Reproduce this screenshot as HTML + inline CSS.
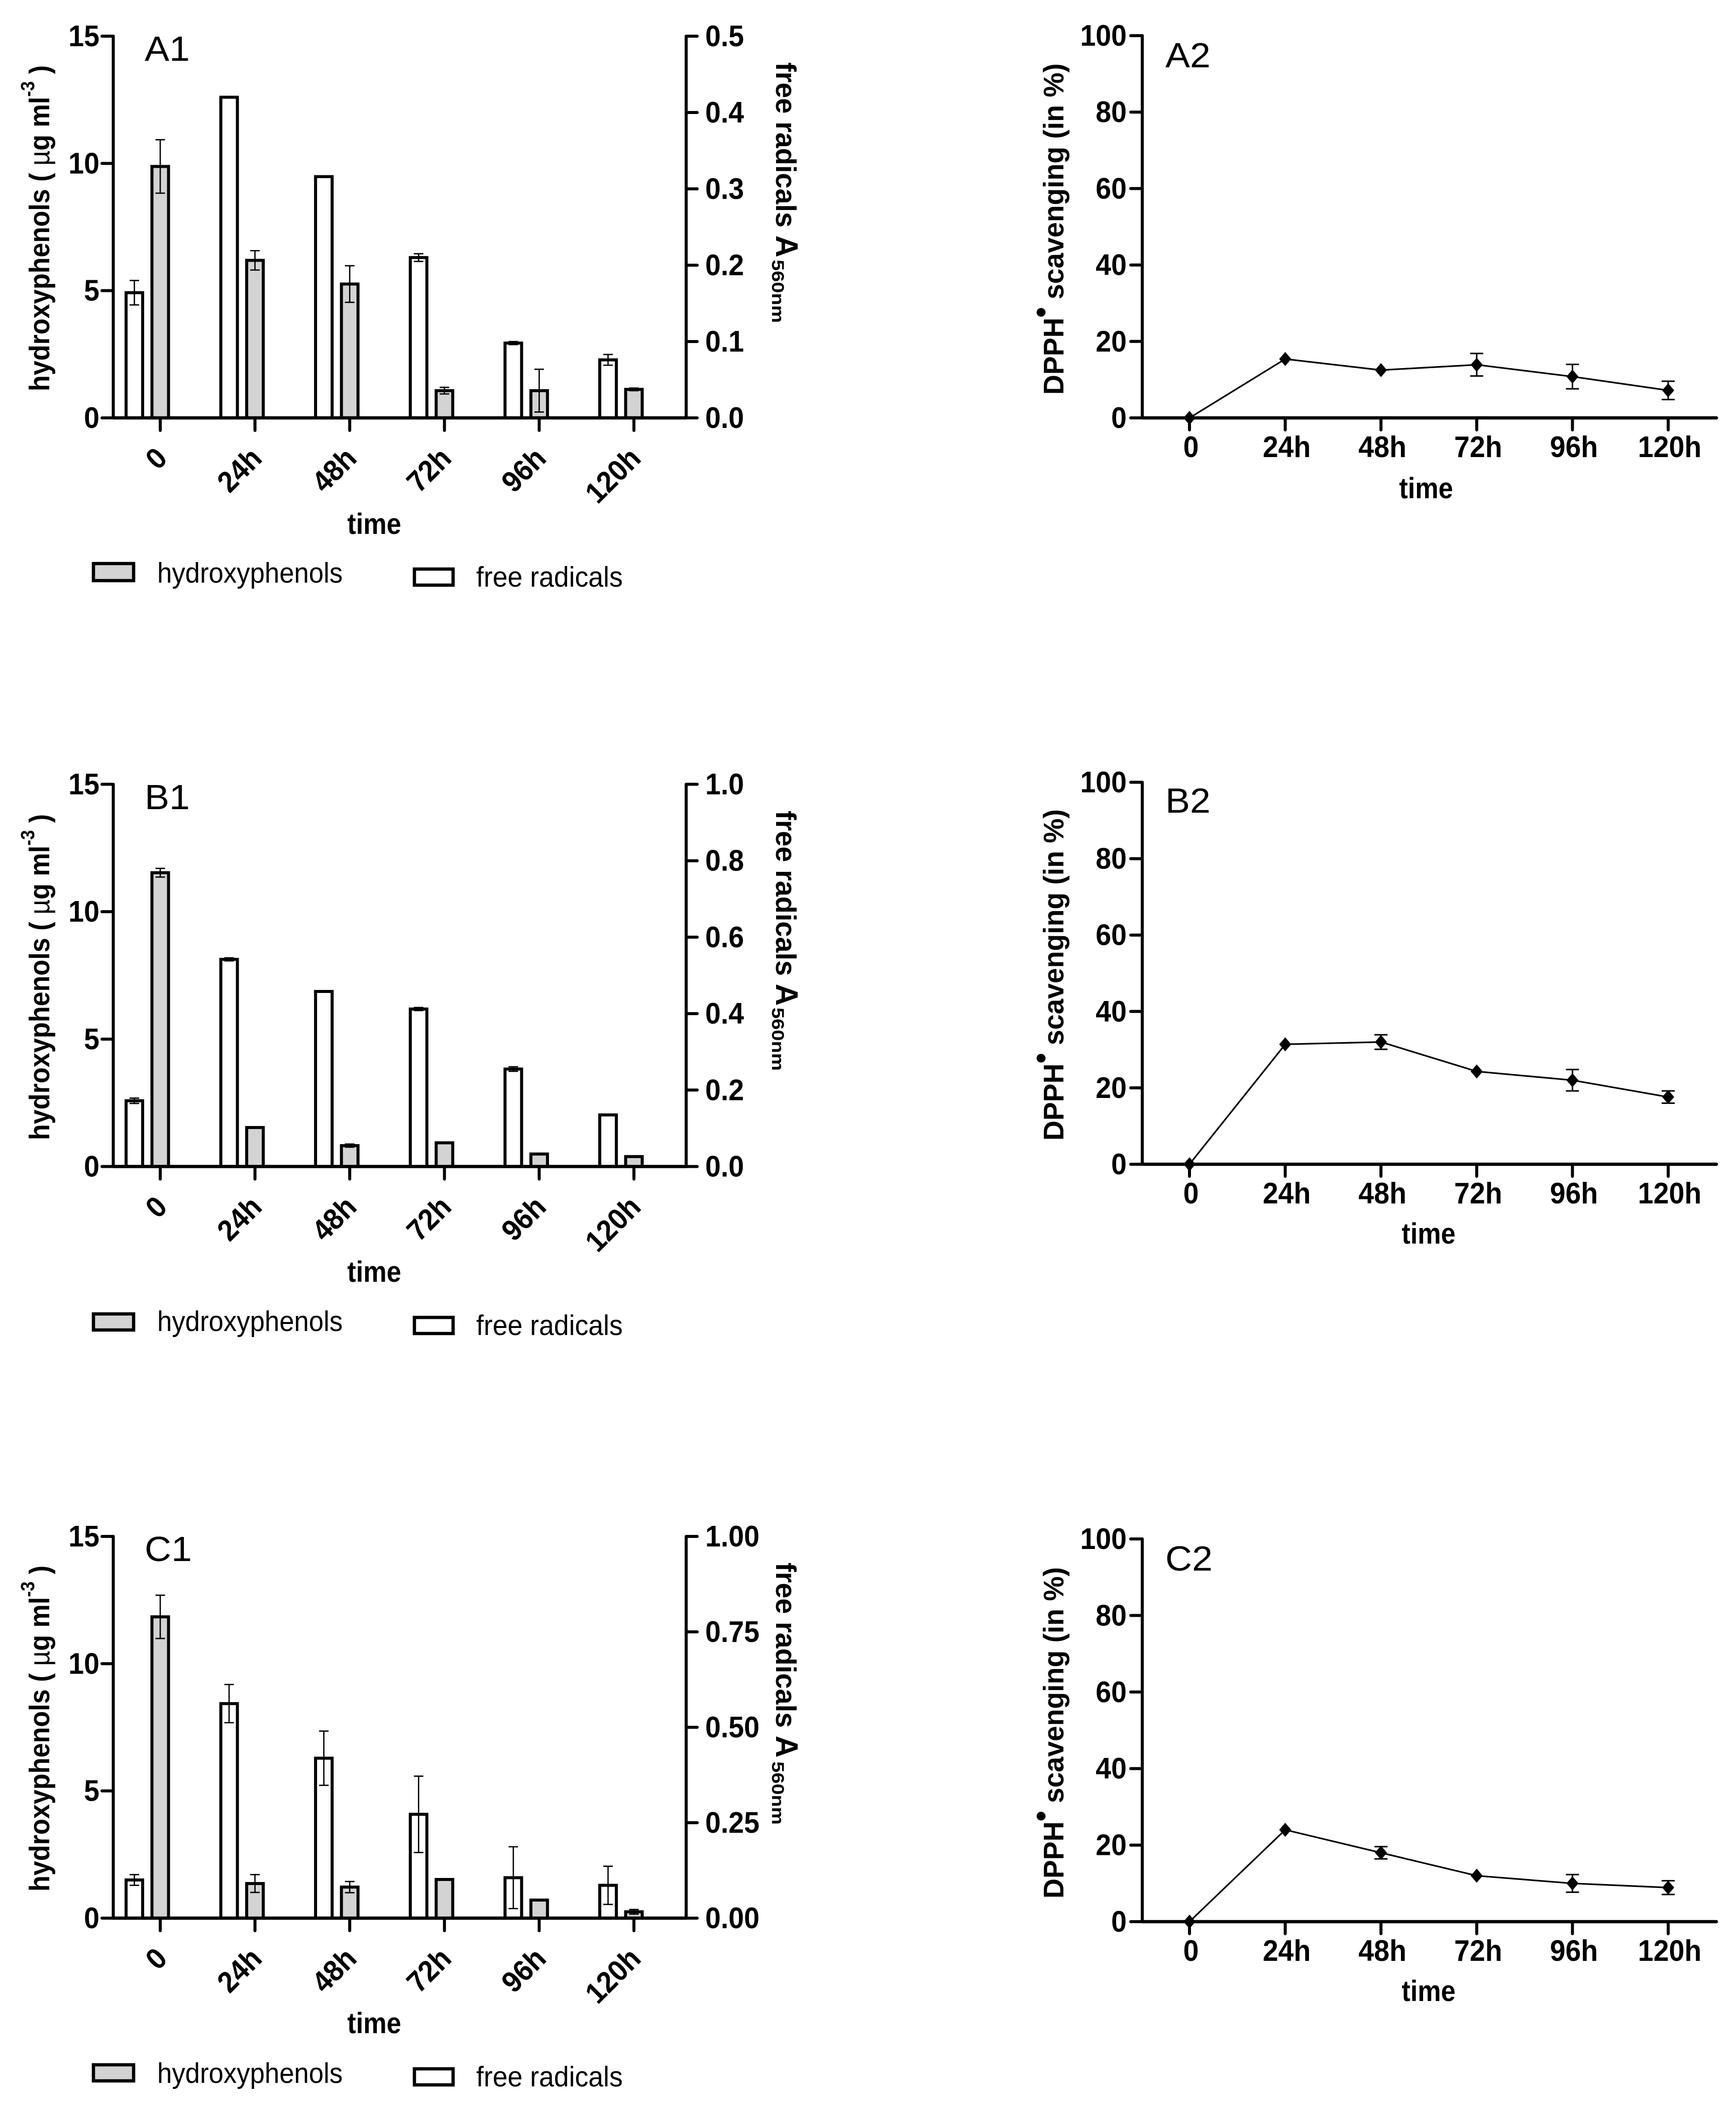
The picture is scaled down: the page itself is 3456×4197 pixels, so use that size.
<!DOCTYPE html>
<html lang="en">
<head>
<meta charset="utf-8">
<title>Hydroxyphenols, free radicals and DPPH scavenging over time</title>
<style>
html,body{margin:0;padding:0;background:#fff}
svg{display:block}
text{font-family:"Liberation Sans",Arial,sans-serif;fill:#000}
.b{font-weight:700}
</style>
</head>
<body>
<svg id="figure" xmlns="http://www.w3.org/2000/svg" width="3456" height="4197" viewBox="0 0 3456 4197">
<rect width="3456" height="4197" fill="#fff"/>

<!-- A1 static -->
<g>
<text transform="translate(288 121) scale(1.05 1)" font-size="70">A1</text>
<text class="b" transform="translate(98 779) rotate(-90) scale(.915 1)" font-size="57">hydroxyphenols ( <tspan font-weight="400">µ</tspan>g ml<tspan font-size="38" dy="-30">-3</tspan><tspan dy="30"> )</tspan></text>
<text class="b" transform="translate(1545 124) rotate(90) scale(.98 1)" font-size="57">free radicals <tspan font-size="62">A</tspan></text>
<text class="b" transform="translate(1537 517) rotate(90) scale(1.17 1)" font-size="34">560nm</text>
<text class="b" transform="translate(745 1063) scale(.9 1)" font-size="58" text-anchor="middle">time</text>
<rect x="186" y="1122" width="80" height="34" fill="#d3d3d3" stroke="#000" stroke-width="6.5"/>
<text transform="translate(313 1160) scale(.925 1)" font-size="57">hydroxyphenols</text>
<rect x="825" y="1133" width="77" height="32" fill="#fff" stroke="#000" stroke-width="6.5"/>
<text transform="translate(948 1168) scale(.94 1)" font-size="57">free radicals</text>
</g>

<!-- A2 static -->
<g>
<text transform="translate(2320 134) scale(1.05 1)" font-size="70">A2</text>
<text class="b" transform="translate(2117 786) rotate(-90) scale(.97 1)" font-size="57">DPPH<tspan font-size="62" dy="-24">•</tspan><tspan dy="24"> scavenging (in %)</tspan></text>
<text class="b" transform="translate(2839 992) scale(.9 1)" font-size="58" text-anchor="middle">time</text>
</g>

<!-- B1 static -->
<g>
<text transform="translate(288 1611) scale(1.05 1)" font-size="70">B1</text>
<text class="b" transform="translate(98 2270) rotate(-90) scale(.915 1)" font-size="57">hydroxyphenols ( <tspan font-weight="400">µ</tspan>g ml<tspan font-size="38" dy="-30">-3</tspan><tspan dy="30"> )</tspan></text>
<text class="b" transform="translate(1545 1614) rotate(90) scale(.98 1)" font-size="57">free radicals <tspan font-size="62">A</tspan></text>
<text class="b" transform="translate(1537 2006) rotate(90) scale(1.17 1)" font-size="34">560nm</text>
<text class="b" transform="translate(745 2552) scale(.9 1)" font-size="58" text-anchor="middle">time</text>
<rect x="186" y="2616" width="80" height="32" fill="#d3d3d3" stroke="#000" stroke-width="6.5"/>
<text transform="translate(313 2650) scale(.925 1)" font-size="57">hydroxyphenols</text>
<rect x="825" y="2623" width="77" height="32" fill="#fff" stroke="#000" stroke-width="6.5"/>
<text transform="translate(948 2658) scale(.94 1)" font-size="57">free radicals</text>
</g>

<!-- B2 static -->
<g>
<text transform="translate(2320 1618) scale(1.05 1)" font-size="70">B2</text>
<text class="b" transform="translate(2117 2271) rotate(-90) scale(.97 1)" font-size="57">DPPH<tspan font-size="62" dy="-24">•</tspan><tspan dy="24"> scavenging (in %)</tspan></text>
<text class="b" transform="translate(2844 2476) scale(.9 1)" font-size="58" text-anchor="middle">time</text>
</g>

<!-- C1 static -->
<g>
<text transform="translate(288 3108) scale(1.05 1)" font-size="70">C1</text>
<text class="b" transform="translate(98 3766) rotate(-90) scale(.915 1)" font-size="57">hydroxyphenols ( <tspan font-weight="400">µ</tspan>g ml<tspan font-size="38" dy="-30">-3</tspan><tspan dy="30"> )</tspan></text>
<text class="b" transform="translate(1545 3111) rotate(90) scale(.98 1)" font-size="57">free radicals <tspan font-size="62">A</tspan></text>
<text class="b" transform="translate(1537 3507) rotate(90) scale(1.17 1)" font-size="34">560nm</text>
<text class="b" transform="translate(745 4048) scale(.9 1)" font-size="58" text-anchor="middle">time</text>
<rect x="186" y="4111" width="80" height="32" fill="#d3d3d3" stroke="#000" stroke-width="6.5"/>
<text transform="translate(313 4147) scale(.925 1)" font-size="57">hydroxyphenols</text>
<rect x="825" y="4119" width="77" height="32" fill="#fff" stroke="#000" stroke-width="6.5"/>
<text transform="translate(948 4154) scale(.94 1)" font-size="57">free radicals</text>
</g>

<!-- C2 static -->
<g>
<text transform="translate(2320 3127) scale(1.05 1)" font-size="70">C2</text>
<text class="b" transform="translate(2117 3780) rotate(-90) scale(.97 1)" font-size="57">DPPH<tspan font-size="62" dy="-24">•</tspan><tspan dy="24"> scavenging (in %)</tspan></text>
<text class="b" transform="translate(2844 3984) scale(.9 1)" font-size="58" text-anchor="middle">time</text>
</g>
</svg>

<script>
// Shared categories and axis tick labels
const categories = ['0', '24h', '48h', '72h', '96h', '120h'];
const hydroxyTickLabels = ['0', '5', '10', '15'];
const dpphTickLabels = ['0', '20', '40', '60', '80', '100'];

// Panel A1
const a1FreeTicks = ['0.0', '0.1', '0.2', '0.3', '0.4', '0.5'];
const a1Free = [0.164, 0.42, 0.316, 0.21, 0.098, 0.076];
const a1FreeErr = [0.016, 0, 0, 0.005, 0.002, 0.007];
const a1Hydroxy = [9.88, 6.19, 5.26, 1.07, 1.07, 1.12];
const a1HydroxyErr = [1.05, 0.38, 0.72, 0.13, 0.84, 0.05];

// Panel B1
const b1FreeTicks = ['0.0', '0.2', '0.4', '0.6', '0.8', '1.0'];
const b1Free = [0.172, 0.542, 0.458, 0.412, 0.255, 0.135];
const b1FreeErr = [0.007, 0.004, 0.001, 0.004, 0.006, 0.001];
const b1Hydroxy = [11.53, 1.53, 0.82, 0.93, 0.49, 0.39];
const b1HydroxyErr = [0.17, 0.02, 0.06, 0.02, 0.01, 0.02];

// Panel C1
const c1FreeTicks = ['0.00', '0.25', '0.50', '0.75', '1.00'];
const c1Free = [0.1, 0.562, 0.419, 0.272, 0.106, 0.086];
const c1FreeErr = [0.014, 0.05, 0.071, 0.1, 0.081, 0.05];
const c1Hydroxy = [11.84, 1.36, 1.22, 1.52, 0.71, 0.25];
const c1HydroxyErr = [0.85, 0.35, 0.22, 0.03, 0.01, 0.09];

// DPPH scavenging panels
const a2Dpph = [0, 15.4, 12.5, 13.9, 10.8, 7.2];
const a2DpphErr = [0, 0.6, 0.5, 2.95, 3.2, 2.4];
const b2Dpph = [0, 31.4, 32, 24.3, 22, 17.6];
const b2DpphErr = [0, 0.5, 1.9, 0.6, 2.8, 1.6];
const c2Dpph = [0, 24, 18, 12, 10, 8.9];
const c2DpphErr = [0, 0.5, 1.6, 0.5, 2.3, 1.8];

const svgNS = 'http://www.w3.org/2000/svg';
const root = document.getElementById('figure');

function addLine(parent, name, x1, y1, x2, y2, width, cap) {
  const el = document.createElementNS(svgNS, 'line');
  
  
  el.setAttribute('x1', x1);
  el.setAttribute('y1', y1);
  el.setAttribute('x2', x2);
  el.setAttribute('y2', y2);
  el.setAttribute('stroke', '#000');
  el.setAttribute('stroke-width', width);
  el.setAttribute('stroke-linecap', cap || 'round');
  parent.appendChild(el);
  return el;
}

function addText(parent, name, str, x, y, anchor, rotation) {
  const el = document.createElementNS(svgNS, 'text');
  
  
  el.setAttribute('class', 'b');
  el.setAttribute('font-size', '59');
  el.setAttribute('text-anchor', anchor);
  el.setAttribute('transform', 'translate(' + x + ' ' + y + ') rotate(' + (rotation || 0) + ') scale(.94 1)');
  el.textContent = str;
  parent.appendChild(el);
  return el;
}

function addGroup(name) {
  const el = document.createElementNS(svgNS, 'g');
  
  
  root.appendChild(el);
  return el;
}

function addErrorBar(parent, name, x, yLow, yHigh, capHalf, width) {
  addLine(parent, name, x, yLow, x, yHigh, width, 'butt');
  addLine(parent, name + '-cap-low', x - capHalf, yLow, x + capHalf, yLow, width, 'butt');
  addLine(parent, name + '-cap-high', x - capHalf, yHigh, x + capHalf, yHigh, width, 'butt');
}

function addBar(parent, name, centerX, barTop, baseY, fill) {
  const el = document.createElementNS(svgNS, 'rect');
  
  
  el.setAttribute('x', centerX - 16.5);
  el.setAttribute('y', barTop);
  el.setAttribute('width', 33);
  el.setAttribute('height', Math.max(baseY - barTop, 0));
  el.setAttribute('fill', fill);
  el.setAttribute('stroke', '#000');
  el.setAttribute('stroke-width', 6);
  parent.appendChild(el);
}

// Dual-axis bar chart
function drawBarPanel(name, top, bottom, freeTicks, free, freeErr, hydroxy, hydroxyErr) {
  const g = addGroup(name);
  const leftX = 225.5;
  const rightX = 1366;
  const freeMax = parseFloat(freeTicks[freeTicks.length - 1]);
  const yLeft = function (v) { return bottom - v / 15 * (bottom - top); };
  const yRight = function (v) { return bottom - v / freeMax * (bottom - top); };
  const xBand = function (i) { return 319 + 188.6 * i; };

  categories.forEach(function (cat, i) {
    const tickX = xBand(i);
    const whiteX = tickX - 51.5;
    addBar(g, 'bar-free-radicals-' + cat, whiteX, yRight(free[i]), bottom, '#fff');
    addBar(g, 'bar-hydroxyphenols-' + cat, tickX, yLeft(hydroxy[i]), bottom, '#d3d3d3');
    if (freeErr[i] > 0) {
      addErrorBar(g, 'error-free-radicals-' + cat, whiteX, yRight(free[i] - freeErr[i]), yRight(free[i] + freeErr[i]), 9.5, 2.6);
    }
    if (hydroxyErr[i] > 0) {
      addErrorBar(g, 'error-hydroxyphenols-' + cat, tickX, yLeft(hydroxy[i] - hydroxyErr[i]), yLeft(hydroxy[i] + hydroxyErr[i]), 9.5, 2.6);
    }
    addLine(g, 'x-tick-' + cat, tickX, bottom, tickX, bottom + 25, 6);
    addText(g, 'x-tick-label-' + cat, cat, tickX + 17, bottom + 84, 'end', -45);
  });

  addLine(g, 'y-axis-left', leftX, top, leftX, bottom, 6);
  addLine(g, 'y-axis-right', rightX, top, rightX, bottom, 6);
  addLine(g, 'x-axis', leftX, bottom, rightX, bottom, 6.5);

  hydroxyTickLabels.forEach(function (label) {
    const y = yLeft(parseFloat(label));
    addLine(g, 'y-tick-left-' + label, 203, y, leftX, y, 6);
    addText(g, 'y-tick-label-left-' + label, label, 198, y + 20, 'end');
  });
  freeTicks.forEach(function (label) {
    const y = yRight(parseFloat(label));
    addLine(g, 'y-tick-right-' + label, rightX, y, 1388, y, 6);
    addText(g, 'y-tick-label-right-' + label, label, 1404, y + 20, 'start');
  });
}

// Line chart with diamond markers
function drawLinePanel(name, top, bottom, values, errors) {
  const g = addGroup(name);
  const leftX = 2274;
  const yAxis = function (v) { return bottom - v / 100 * (bottom - top); };
  const xBand = function (i) { return 2368 + 190.6 * i; };

  addLine(g, 'y-axis', leftX, top, leftX, bottom, 6);
  addLine(g, 'x-axis', leftX, bottom, 3417, bottom, 6.5);

  dpphTickLabels.forEach(function (label) {
    const y = yAxis(parseFloat(label));
    addLine(g, 'y-tick-' + label, 2251, y, leftX, y, 6);
    addText(g, 'y-tick-label-' + label, label, 2243, y + 20, 'end');
  });

  categories.forEach(function (cat, i) {
    const x = xBand(i);
    addLine(g, 'x-tick-' + cat, x, bottom, x, bottom + 24, 6);
    addText(g, 'x-tick-label-' + cat, cat, x + 3, bottom + 78, 'middle');
  });

  const path = document.createElementNS(svgNS, 'polyline');
  
  
  path.setAttribute('fill', 'none');
  path.setAttribute('stroke', '#000');
  path.setAttribute('stroke-width', 3.2);
  path.setAttribute('points', values.map(function (v, i) { return xBand(i) + ',' + yAxis(v); }).join(' '));
  g.appendChild(path);

  categories.forEach(function (cat, i) {
    const x = xBand(i);
    const y = yAxis(values[i]);
    if (errors[i] > 1) {
      addErrorBar(g, 'error-dpph-' + cat, x, yAxis(values[i] - errors[i]), yAxis(values[i] + errors[i]), 13, 3);
    }
    const marker = document.createElementNS(svgNS, 'polygon');
    
    
    marker.setAttribute('fill', '#000');
    marker.setAttribute('points', x + ',' + (y - 14) + ' ' + (x + 12) + ',' + y + ' ' + x + ',' + (y + 14) + ' ' + (x - 12) + ',' + y);
    g.appendChild(marker);
  });
}

drawBarPanel('chart-a1', 72, 832, a1FreeTicks, a1Free, a1FreeErr, a1Hydroxy, a1HydroxyErr);
drawBarPanel('chart-b1', 1561.5, 2322.5, b1FreeTicks, b1Free, b1FreeErr, b1Hydroxy, b1HydroxyErr);
drawBarPanel('chart-c1', 3059, 3819, c1FreeTicks, c1Free, c1FreeErr, c1Hydroxy, c1HydroxyErr);
drawLinePanel('chart-a2', 71, 832, a2Dpph, a2DpphErr);
drawLinePanel('chart-b2', 1557.5, 2318, b2Dpph, b2DpphErr);
drawLinePanel('chart-c2', 3064, 3826, c2Dpph, c2DpphErr);
</script>
</body>
</html>
